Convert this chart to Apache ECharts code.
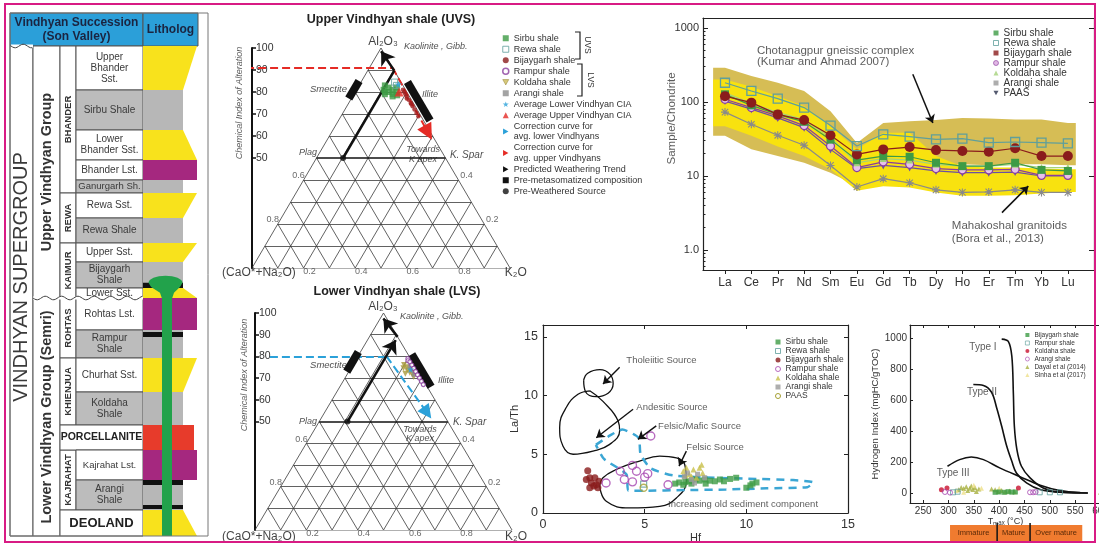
<!DOCTYPE html>
<html>
<head>
<meta charset="utf-8">
<title>Vindhyan shale geochemistry</title>
<script src="https://cdn.jsdelivr.net/npm/echarts@6.0.0/dist/echarts.min.js"></script>
<style>
  html, body { margin: 0; padding: 0; background: #ffffff; }
  #chart { width: 1099px; height: 545px; }
</style>
</head>
<body>
<div id="chart"></div>
<script>
// ======================= DATA =======================
// --- Stratigraphic column (Son Valley) ---
const stratMembers = ['Upper\nBhander\nSst.', 'Sirbu Shale', 'Lower\nBhander Sst.', 'Bhander Lst.', 'Ganurgarh Sh.',
  'Rewa Sst.', 'Rewa Shale', 'Upper Sst.', 'Bijaygarh\nShale', 'Lower Sst.', 'Rohtas Lst.', 'Rampur\nShale',
  'Churhat Sst.', 'Koldaha\nShale', 'PORCELLANITE', 'Kajrahat Lst.', 'Arangi\nShale', 'DEOLAND'];
const stratThickness = [44, 40, 30, 20, 13, 25, 25, 19, 26, 10, 32, 28, 34, 33, 25, 30, 30, 26];
const stratLitho = ['sst', 'shale', 'sst', 'lst', 'shale', 'sst', 'shale', 'sst', 'shale', 'sst', 'lst', 'shale',
  'sst', 'shale', 'porc', 'lst', 'shale', 'sst'];
const grainTop  = [2, 1, 1, 2, 1, 2, 1, 2, 1, 1, 2, 1, 2, 1, 2, 2, 1, 1];
const grainBase = [1, 1, 2, 2, 1, 1, 1, 1, 1, 2, 2, 1, 1, 1, 2, 2, 1, 2];
const formations = ['BHANDER', 'REWA', 'KAIMUR', 'ROHTAS', 'KHIENJUA', 'PORCELLANITE', 'KAJRAHAT', 'DEOLAND'];
const formationMembers = [5, 2, 3, 2, 2, 1, 2, 1];
const groups = ['Upper Vindhyan Group', 'Lower Vindhyan Group (Semri)'];
const groupMembers = [10, 8];
const supergroupName = 'VINDHYAN SUPERGROUP';
const blackShaleBands = [[8, 0.80, 1.0], [11, 0.07, 0.25], [16, 0.0, 0.17], [16, 0.83, 0.97]];
const sampledFromMember = 8;

// --- A-CN-K ternary data: [Al2O3 fraction, K2O fraction] ---
const uvsSirbu = [[0.83,0.10],[0.82,0.12],[0.81,0.105],[0.80,0.13],[0.79,0.12],[0.81,0.14],[0.79,0.15],[0.80,0.16],[0.78,0.155],[0.82,0.15],[0.80,0.115],[0.785,0.17]];
const uvsRewa = [[0.845,0.13],[0.83,0.145]];
const uvsBijaygarh = [[0.81,0.18],[0.80,0.19],[0.79,0.20],[0.78,0.21],[0.765,0.225],[0.75,0.24],[0.735,0.255],[0.72,0.27],[0.705,0.285],[0.69,0.30],[0.77,0.215],[0.745,0.245]];
const uvsAvgUpper = [[0.80, 0.17]];
const uvsAvgLower = [[0.835, 0.15]];
const uvsTrend = [[0.5, 0.103], [0.897, 0.103], [0.985, 0.008]];
const uvsCorrectionCIA = 91;
const uvsCorrection = [[0.91, 0.09], [0.615, 0.375]];
const uvsSmectite = [[0.77, -0.01], [0.85, -0.01]];
const uvsIllite = [[0.845, 0.18], [0.67, 0.355]];

const lvsRampur = [[0.79,0.20],[0.78,0.205],[0.775,0.215],[0.76,0.23],[0.745,0.245],[0.73,0.26],[0.715,0.275],[0.70,0.29],[0.685,0.305],[0.67,0.32]];
const lvsKoldaha = [[0.76,0.20],[0.75,0.215],[0.745,0.205],[0.735,0.225],[0.725,0.24],[0.715,0.255],[0.705,0.265],[0.74,0.235],[0.72,0.225],[0.73,0.25]];
const lvsArangi = [[0.755,0.225],[0.735,0.24],[0.715,0.26]];
const lvsAvgLower = [[0.74, 0.235]];
const lvsTrend = [[0.5, 0.11], [0.875, 0.11]];
const lvsTrend2 = [[0.89, 0.11], [0.975, 0.012]];
const lvsCorrectionCIA = 80;
const lvsCorrection = [[0.8, 0.112], [0.54, 0.40]];
const lvsSmectite = [[0.73, -0.008], [0.82, -0.008]];
const lvsIllite = [[0.81, 0.205], [0.66, 0.355]];
const ternaryTicks = [0.2, 0.4, 0.6, 0.8];

// --- Chondrite-normalised REE ---
const REE = ['La','Ce','Pr','Nd','Sm','Eu','Gd','Tb','Dy','Ho','Er','Tm','Yb','Lu'];
const reeSirbu     = [127, 90, 68, 54, 31, 16.4, 18.6, 18.2, 15.1, 13.6, 13.6, 15.1, 12.1, 11.7];
const reeRewa      = [182, 141, 111, 84, 48, 25.4, 36.6, 34, 31.3, 32, 28.2, 28.8, 28.2, 27.6];
const reeBijaygarh = [120, 98, 68, 57, 35.5, 19.6, 22.9, 24.6, 22.4, 21.8, 21.3, 23.7, 18.6, 18.6];
const reeRampur    = [109, 84, 65, 48, 25.4, 13, 15.5, 14.4, 12.6, 12.1, 12.1, 12.3, 10.2, 10.2];
const reeKoldaha   = [133, 96, 72, 58, 33, 15.1, 17.2, 16.4, 14.4, 13.6, 13.6, 14.4, 13, 13];
const reeArangi    = [73, 50, 35.5, 26, 13.9, 7.1, 9.2, 8.1, 6.5, 6.0, 6.1, 6.5, 6.0, 6.0];
const reePAAS      = [103, 80, 61, 45, 22.9, 12.6, 13.9, 13, 11.7, 11.1, 11.1, 11.3, 10, 10];
const chotaUpper = [291, 224, 182, 141, 75, 28, 52, 55, 57, 61, 60, 58, 58, 52];
const chotaLower = [35, 23, 18.6, 15.1, 11.1, 7.3, 11.1, 13, 14.4, 14.4, 14, 14.4, 14.4, 14];
const mahaUpper  = [202, 161, 120, 88, 47, 23, 38.5, 38.5, 18.6, 13.6, 13, 13, 12.6, 12.3];
const mahaLower  = [47, 35, 25, 18.6, 12.3, 6.3, 7.3, 7, 6, 5.4, 5.4, 5.5, 5.8, 6.1];

// --- La/Th vs Hf ---
const ltSirbu = [[6.5,2.5],[6.7,2.6],[7.0,2.65],[7.2,2.7],[7.5,2.85],[7.7,2.75],[7.95,2.85],[8.2,2.75],[8.45,2.7],[8.7,2.85],[8.9,2.7],[9.2,2.9],[9.5,3.0],[10.0,2.15],[10.2,2.35],[10.3,2.5],[10.5,2.6],[6.9,2.4],[7.3,2.5],[8.0,2.5]];
const ltRewa = [[4.95,2.45]];
const ltBijaygarh = [[2.2,3.6],[2.3,3.0],[2.38,2.55],[2.5,2.3],[2.62,2.4],[2.75,2.7],[2.3,2.15],[2.55,3.0],[2.13,2.85],[2.7,2.15]];
const ltRampur = [[3.1,2.55],[3.8,3.55],[4.0,2.85],[4.4,2.65],[4.4,4.05],[4.6,3.55],[5.0,3.05],[5.15,3.35],[5.3,6.55],[6.15,2.4]];
const ltKoldaha = [[6.9,3.55],[7.05,3.85],[7.2,3.3],[7.4,3.7],[7.55,3.0],[7.7,3.85],[7.85,3.4],[7.8,4.1],[7.3,3.1],[7.0,3.2]];
const ltArangi = [[6.95,3.1],[7.3,2.85],[7.6,3.3],[7.95,3.0],[7.45,2.55],[7.1,3.4]];
const ltPAAS = [[4.95,2.15]];
const fieldTholeiitic = [[2.0,11.3],[2.2,11.9],[2.8,12.2],[3.3,11.8],[3.45,11.0],[3.2,10.2],[2.6,9.9],[2.1,10.3],[2.0,11.3]];
const fieldAndesitic = [[2.3,10.4],[2.95,9.5],[3.7,7.8],[3.77,7.0],[3.28,5.84],[2.46,5.27],[1.48,5.0],[0.98,5.7],[0.82,7.3],[1.15,9.0],[1.72,10.1],[2.3,10.4]];
const fieldFelsic = [[2.79,2.28],[3.11,1.0],[4.26,0.43],[5.74,0.57],[6.56,1.28],[7.05,2.7],[6.97,4.13],[6.56,4.7],[5.74,4.84],[4.75,4.42],[3.6,3.7],[2.95,3.0],[2.79,2.28]];
const fieldFelsicMafic = [[2.6,5.8],[3.3,6.6],[3.9,7.1],[4.7,6.4],[4.8,5.0],[5.3,3.8],[6.4,3.2],[8.5,3.0],[10.5,2.9],[12.3,2.8],[13.3,2.6],[13.0,2.2],[11.0,2.1],[9.0,2.0],[7.0,1.95],[5.0,1.9],[4.2,1.9],[4.1,3.3],[3.0,4.6],[2.6,5.8]];

// --- Hydrogen index vs Tmax ---
const hiBijaygarh = [[392,4],[400,6],[410,4],[418,8],[425,5],[432,6]];
const hiRampur = [[309,4],[318,8],[480,4],[500,4],[520,4]];
const hiKoldaha = [[286,21],[297,32],[438,32]];
const hiArangi = [[293,6],[303,2],[461,4],[467,4],[472,6]];
const hiDayal = [[320,20],[325,35],[330,28],[335,40],[338,15],[342,30],[345,45],[348,22],[352,35],[355,10],[360,25],[385,25],[392,20],[398,10],[405,15],[412,8],[420,12],[430,8],[600,4]];
const hiSinha = [[315,15],[330,5],[350,50],[365,30],[400,30]];
const typeI = [[405,993],[418,978],[425,882],[428,645],[430,430],[435,280],[444,172],[461,97],[487,32],[520,4],[575,0]];
const typeII = [[349,700],[369,694],[385,650],[395,550],[405,430],[415,301],[425,204],[434,129],[454,65],[481,22],[520,4],[575,0]];
const typeIII = [[298,172],[322,215],[345,232],[369,215],[402,160],[441,105],[481,50],[520,15],[560,2]];
const maturityNames = ['Immature', 'Mature', 'Over mature'];
const maturityFrom = [303, 396, 461];
const maturityTo = [396, 461, 564];

// ======================= CONFIG =======================
const FONT = '"Liberation Sans", Arial, Helvetica, sans-serif';
const C = { sirbu: '#3d9b45', rewa: '#5f9f9b', bij: '#8a1c1c', ramp: '#8a3d9e', kold: '#b3a24a', arangi: '#8c8c8c', cyan: '#2ba1d9', red: '#e52b25' };
const LITHO_COLORS = { sst: '#f8e21c', shale: '#b7b7b7', lst: '#a5287f', porc: '#e73b2b' };
const INV_TRI = 'path://M0,0L10,0L5,9Z';
const RIGHT_TRI = 'path://M0,0L9,5L0,10Z';
const STAR = 'path://M5,0L6.2,3.6L10,3.6L7,5.9L8.1,9.5L5,7.3L1.9,9.5L3,5.9L0,3.6L3.8,3.6Z';
const ASTER = 'path://M1,1L9,9M9,1L1,9M5,0L5,10M0,5L10,5';
const UX = 1, UY = 1, LX = 2, LY = 2, RX = 3, RY = 3, TX = 5, TY = 6, HX = 7, HY = 8;
const REE_MIN = -0.834, REE_MAX = 13.99;

const Tt = (a, k) => [k + a / 2, a * 100];
const tern = arr => arr.map(p => Tt(p[0], p[1]));

// ---------- strat column ----------
function renderStrat(params, api) {
  const X = { sg: 0, grp: 23, fm: 50, mb: 66, lith: 133, lithEnd: 188, end: 198 };
  const P = (x, d) => api.coord([x, d]);
  const R = (x0, d0, x1, d1) => { const a = P(x0, d0), b = P(x1, d1); return { x: a[0], y: a[1], width: b[0] - a[0], height: b[1] - a[1] }; };
  const stroke = '#555';
  const bg = [], fills = [], lines = [], texts = [];
  const tops = []; let acc = 0;
  stratThickness.forEach(t => { tops.push(acc); acc += t; });
  const total = acc;
  const text = (x, d, str, style, rot) => { const p = P(x, d); return { type: 'text', x: p[0], y: p[1], rotation: rot || 0, style: Object.assign({ text: str, fill: '#333', fontFamily: FONT, fontSize: 10, align: 'center', verticalAlign: 'middle' }, style) }; };
  const cell = (x0, d0, x1, d1, fill) => ({ type: 'rect', shape: R(x0, d0, x1, d1), style: { fill, stroke, lineWidth: 1 } });

  bg.push(cell(X.sg, -33, X.lith, 0, '#2b9fd9'));
  bg.push(cell(X.lith, -33, X.lithEnd, 0, '#2b9fd9'));
  texts.push(text(X.lith / 2, -16.5, 'Vindhyan Succession\n(Son Valley)', { fontSize: 12, fontWeight: 'bold', fill: '#1b2440', lineHeight: 14 }));
  texts.push(text((X.lith + X.lithEnd) / 2, -16.5, 'Litholog', { fontSize: 12, fontWeight: 'bold', fill: '#1b2440' }));

  bg.push(cell(X.sg, 0, X.grp, total, '#fff'));
  texts.push(text((X.sg + X.grp) / 2, 231, supergroupName, { fontSize: 20, fill: '#3a3a3a' }, Math.PI / 2));

  let mi = 0;
  groups.forEach((g, gi) => {
    const n = groupMembers[gi]; const d0 = tops[mi]; const d1 = tops[mi + n - 1] + stratThickness[mi + n - 1];
    bg.push(cell(X.grp, d0, X.fm, d1, '#fff'));
    texts.push(text((X.grp + X.fm) / 2, (d0 + d1) / 2, g, { fontSize: 14.5, fontWeight: 'bold', fill: '#333' }, Math.PI / 2));
    mi += n;
  });
  const memberFormation = [];
  mi = 0;
  formations.forEach((f, fi) => {
    const n = formationMembers[fi]; const d0 = tops[mi]; const d1 = tops[mi + n - 1] + stratThickness[mi + n - 1];
    for (let k = 0; k < n; k++) memberFormation.push(fi);
    if (n > 1) {
      bg.push(cell(X.fm, d0, X.mb, d1, '#fff'));
      texts.push(text((X.fm + X.mb) / 2, (d0 + d1) / 2, f, { fontSize: 9.5, fontWeight: 'bold', fill: '#333' }, Math.PI / 2));
    }
    mi += n;
  });
  stratMembers.forEach((m, i) => {
    const d0 = tops[i], d1 = d0 + stratThickness[i];
    const merged = formationMembers[memberFormation[i]] === 1;
    const x0 = merged ? X.fm : X.mb;
    const lt = stratLitho[i];
    bg.push(cell(x0, d0, X.lith, d1, lt === 'shale' ? '#bcbcbc' : '#fff'));
    const longest = Math.max.apply(null, m.split('\n').map(s => s.length));
    const fs = merged ? (m.length > 8 ? 10.5 : 13) : (longest > 12 ? 9.5 : 10);
    texts.push(text((x0 + X.lith) / 2, (d0 + d1) / 2, m, { fontSize: fs, fontWeight: merged ? 'bold' : 'normal', lineHeight: 11, fill: merged ? '#222' : '#3a3a3a' }));
    const widthOf = g => (lt === 'porc' ? 51 : (g === 2 ? 54 : 40));
    const wt = widthOf(grainTop[i]), wb = widthOf(grainBase[i]);
    fills.push({ type: 'polygon', shape: { points: [P(X.lith, d0), P(X.lith + wt, d0), P(X.lith + wb, d1), P(X.lith, d1)] }, style: { fill: LITHO_COLORS[lt] } });
  });
  blackShaleBands.forEach(b => {
    const d0 = tops[b[0]] + b[1] * stratThickness[b[0]], d1 = tops[b[0]] + b[2] * stratThickness[b[0]];
    fills.push({ type: 'rect', shape: R(X.lith, d0, X.lith + 40, d1), style: { fill: '#111' } });
  });
  const cc = P(155.5, tops[sampledFromMember] + 0.8 * stratThickness[sampledFromMember]);
  const rx = 17, ry = 7;
  const sL = P(152, 0)[0], sR = P(162, 0)[0];
  const bottom = P(0, total)[1];
  const gp = [];
  for (let k = 0; k <= 16; k++) { const a = Math.PI - k * Math.PI / 16; gp.push([cc[0] + rx * Math.cos(a), cc[1] - ry * Math.sin(a)]); }
  gp.push([cc[0] + rx * 0.85, cc[1] + ry * 0.6], [sR + 2, cc[1] + ry + 3], [sR, cc[1] + ry + 9], [sR, bottom], [sL, bottom], [sL, cc[1] + ry + 9], [sL - 2, cc[1] + ry + 3], [cc[0] - rx * 0.85, cc[1] + ry * 0.6]);
  fills.push({ type: 'polygon', shape: { points: gp }, style: { fill: '#22a24b' } });
  const wave = (xa, xb, d) => {
    const a = P(xa, d), b = P(xb, d); const pts = [];
    for (let x = a[0]; x <= b[0] + 0.1; x += 1.5) pts.push([x, a[1] + 1.8 * Math.sin((x - a[0]) / 2.6)]);
    lines.push({ type: 'line', shape: { x1: a[0], y1: a[1], x2: b[0], y2: b[1] }, style: { stroke: '#fff', lineWidth: 3 } });
    lines.push({ type: 'polyline', shape: { points: pts }, style: { stroke: '#444', lineWidth: 1, fill: null } });
  };
  wave(X.grp, X.lith, tops[10]);
  wave(X.sg + 1, X.grp, 0);
  const outer = { type: 'rect', shape: R(X.sg, -33, X.end, total), style: { fill: null, stroke: '#777', lineWidth: 1 } };
  return { type: 'group', children: bg.concat(fills, lines, texts, [outer]) };
}

// ---------- helpers ----------
function labelSeries(xi, yi, items, base) {
  return {
    type: 'scatter', xAxisIndex: xi, yAxisIndex: yi, symbolSize: 0, silent: true, clip: false, z: 20,
    data: items.map(t => ({
      value: [t[0], t[1]],
      label: Object.assign({ show: true, position: [0, 0], formatter: t[2], align: 'center', verticalAlign: 'middle', fontSize: 10, color: '#222', fontFamily: FONT }, base || {}, t[3] || {})
    }))
  };
}
function linesSeries(name, xi, yi, segs, lineStyle, endSymbol, endSize, z) {
  return {
    type: 'lines', name, coordinateSystem: 'cartesian2d', xAxisIndex: xi, yAxisIndex: yi, silent: true, z: z || 6,
    symbol: ['none', endSymbol || 'none'], symbolSize: endSize || 10,
    lineStyle: Object.assign({ opacity: 1, curveness: 0 }, lineStyle),
    data: segs.map(s => ({ coords: s }))
  };
}
function scatter(name, xi, yi, data, symbol, size, itemStyle, z) {
  return { type: 'scatter', name, xAxisIndex: xi, yAxisIndex: yi, data, symbol, symbolSize: size, itemStyle, silent: true, z: z || 8 };
}
function ternaryFrame(xi, yi) {
  const seg = [], mid = [];
  for (let i = 1; i <= 9; i++) {
    const v = i / 10;
    if (i === 5) mid.push({ coords: [Tt(v, 0), Tt(v, 1 - v)] }); else seg.push({ coords: [Tt(v, 0), Tt(v, 1 - v)] });
    seg.push({ coords: [Tt(0, v), Tt(1 - v, v)] });
    seg.push({ coords: [Tt(0, 1 - v), Tt(1 - v, 0)] });
  }
  seg.push({ coords: [Tt(0, 0), Tt(0, 1)] }, { coords: [Tt(0, 0), Tt(1, 0)] }, { coords: [Tt(0, 1), Tt(1, 0)] });
  const out = [
    { type: 'lines', coordinateSystem: 'cartesian2d', xAxisIndex: xi, yAxisIndex: yi, silent: true, z: 2, lineStyle: { color: '#3a3a3a', width: 0.8, opacity: 1 }, data: seg },
    { type: 'lines', coordinateSystem: 'cartesian2d', xAxisIndex: xi, yAxisIndex: yi, silent: true, z: 2, lineStyle: { color: '#111', width: 1.6, opacity: 1 }, data: mid }
  ];
  const tl = [];
  ternaryTicks.forEach(v => { const p = Tt(0, v); tl.push([p[0], p[1], String(v), { offset: [6, 4] }]); });
  [[0.4, '0.6'], [0.2, '0.8']].forEach(q => { const p = Tt(q[0], 0); tl.push([p[0], p[1], q[1], { offset: [-5, -4] }]); });
  [[0.4, '0.4'], [0.2, '0.2']].forEach(q => { const p = Tt(q[0], 1 - q[0]); tl.push([p[0], p[1], q[1], { offset: [8, -4] }]); });
  out.push(labelSeries(xi, yi, tl, { fontSize: 9, color: '#444' }));
  return out;
}
function ciaAxis(gi) {
  return {
    gridIndex: gi, type: 'value', min: 0, max: 100, interval: 10, position: 'left',
    axisLine: { show: true, onZero: false, lineStyle: { color: '#111', width: 2 } },
    axisTick: { show: true, inside: true, length: 4, lineStyle: { color: '#111', width: 1.5 }, customValues: [50, 60, 70, 80, 90, 100] },
    axisLabel: { show: true, inside: true, margin: 4, fontSize: 10.5, color: '#333', customValues: [50, 60, 70, 80, 90, 100] },
    splitLine: { show: false }
  };
}
const AX = { show: true, onZero: false, lineStyle: { color: '#222', width: 1.2 } };
const hiddenAxis = (gi, min, max, extra) => Object.assign({ gridIndex: gi, type: 'value', min, max, show: false }, extra || {});
const logMinor = [];
[0.1, 1, 10, 100, 1000].forEach(d => { for (let k = 2; k <= 9; k++) { const v = d * k; if (v > 0.537 && v < 1365) logMinor.push(v); } });

const series = [];
series.push({ type: 'custom', name: 'strat', xAxisIndex: 0, yAxisIndex: 0, data: [[0, 0]], clip: false, silent: true, renderItem: renderStrat, z: 2 });

// ----- UVS ternary -----
series.push(...ternaryFrame(UX, UY));
series.push(linesSeries('Correction curve for avg. upper Vindhyans', UX, UY, [[[-0.116, uvsCorrectionCIA], Tt(uvsCorrection[0][0], uvsCorrection[0][1])]], { color: C.red, width: 2, type: 'dashed' }, 'none', 1, 5));
series.push(linesSeries('Correction curve for avg. upper Vindhyans', UX, UY, [tern(uvsCorrection)], { color: C.red, width: 2, type: 'dashed' }, 'triangle', 16, 5));
series.push(linesSeries('Predicted Weathering Trend', UX, UY, [[Tt(uvsTrend[0][0], uvsTrend[0][1]), Tt(uvsTrend[1][0], uvsTrend[1][1])]], { color: '#111', width: 2.5 }, 'none', 1, 6));
series.push(linesSeries('Predicted Weathering Trend', UX, UY, [[Tt(uvsTrend[1][0], uvsTrend[1][1]), Tt(uvsTrend[2][0], uvsTrend[2][1])]], { color: '#111', width: 2.5 }, 'arrow', 13, 6));
series.push(linesSeries('Pre-metasomatized composition', UX, UY, [tern(uvsSmectite), tern(uvsIllite)], { color: '#111', width: 8, cap: 'butt' }, 'none', 1, 6));
series.push(scatter('Sirbu shale', UX, UY, tern(uvsSirbu), 'rect', 6, { color: C.sirbu }));
series.push(scatter('Rewa shale', UX, UY, tern(uvsRewa), 'rect', 6, { color: 'rgba(255,255,255,0)', borderColor: C.rewa, borderWidth: 1 }));
series.push(scatter('Bijaygarh shale', UX, UY, tern(uvsBijaygarh), 'circle', 4.5, { color: '#a11d1d' }));
series.push(scatter('Average Upper Vindhyan CIA', UX, UY, tern(uvsAvgUpper), 'triangle', 9, { color: C.red }, 9));
series.push(scatter('Average Lower Vindhyan CIA', UX, UY, tern(uvsAvgLower), STAR, 7, { color: C.cyan }, 9));
series.push(scatter('Pre-Weathered Source', UX, UY, tern([uvsTrend[0]]), 'circle', 6, { color: '#111' }, 9));
series.push(labelSeries(UX, UY, [
  [0.508, 103, 'Al₂O₃', { fontSize: 12, color: '#111' }],
  [0.589, 100.5, 'Kaolinite , Gibb.', { align: 'left', fontStyle: 'italic', fontSize: 9 }],
  [0.368, 81, 'Smectite', { align: 'right', fontStyle: 'italic', fontSize: 9.5 }],
  [0.659, 79, 'Illite', { align: 'left', fontStyle: 'italic', fontSize: 9 }],
  [0.252, 52.3, 'Plag', { align: 'right', fontStyle: 'italic', fontSize: 9 }],
  [0.767, 51.4, 'K. Spar', { align: 'left', fontStyle: 'italic', fontSize: 10 }],
  [0.663, 51.5, 'Towards\nK apex', { fontStyle: 'italic', fontSize: 9, lineHeight: 9.5 }],
  [-0.116, -2, '(CaO*+Na₂O)', { align: 'left', fontSize: 12, color: '#111' }],
  [0.98, -2, 'K₂O', { align: 'left', fontSize: 12, color: '#111' }],
  [-0.047, 75, 'Chemical Index of Alteration', { rotate: 90, fontStyle: 'italic', fontSize: 9, color: '#333' }]
]));

// ----- LVS ternary -----
series.push(...ternaryFrame(LX, LY));
series.push(linesSeries('Correction curve for avg. lower Vindhyans', LX, LY, [[[0.058, lvsCorrectionCIA], Tt(lvsCorrection[0][0], lvsCorrection[0][1])]], { color: C.cyan, width: 2, type: 'dashed' }, 'none', 1, 5));
series.push(linesSeries('Correction curve for avg. lower Vindhyans', LX, LY, [tern(lvsCorrection)], { color: C.cyan, width: 2, type: 'dashed' }, 'triangle', 14, 5));
series.push(linesSeries('Predicted Weathering Trend', LX, LY, [tern(lvsTrend), tern(lvsTrend2)], { color: '#111', width: 2.5 }, 'arrow', 13, 6));
series.push(linesSeries('Pre-metasomatized composition', LX, LY, [tern(lvsSmectite), tern(lvsIllite)], { color: '#111', width: 8, cap: 'butt' }, 'none', 1, 6));
series.push(scatter('Koldaha shale', LX, LY, tern(lvsKoldaha), INV_TRI, 6, { color: '#a89a3c' }));
series.push(scatter('Rampur shale', LX, LY, tern(lvsRampur), 'circle', 4, { color: '#fff', borderColor: C.ramp, borderWidth: 1.2 }, 9));
series.push(scatter('Arangi shale', LX, LY, tern(lvsArangi), 'rect', 4, { color: C.arangi }));
series.push(scatter('Average Lower Vindhyan CIA', LX, LY, tern(lvsAvgLower), STAR, 7, { color: C.cyan }, 9));
series.push(scatter('Pre-Weathered Source', LX, LY, tern([lvsTrend[0]]), 'circle', 6, { color: '#111' }, 9));
series.push(labelSeries(LX, LY, [
  [0.498, 102.8, 'Al₂O₃', { fontSize: 12, color: '#111' }],
  [0.564, 98.6, 'Kaolinite , Gibb.', { align: 'left', fontStyle: 'italic', fontSize: 9 }],
  [0.358, 76, 'Smectite', { align: 'right', fontStyle: 'italic', fontSize: 9.5 }],
  [0.712, 69, 'Illite', { align: 'left', fontStyle: 'italic', fontSize: 9 }],
  [0.241, 49.8, 'Plag', { align: 'right', fontStyle: 'italic', fontSize: 9 }],
  [0.77, 49.8, 'K. Spar', { align: 'left', fontStyle: 'italic', fontSize: 10 }],
  [0.642, 44.2, 'Towards\nK apex', { fontStyle: 'italic', fontSize: 9, lineHeight: 9.5 }],
  [-0.128, -3.2, '(CaO*+Na₂O)', { align: 'left', fontSize: 12, color: '#111' }],
  [0.973, -3.2, 'K₂O', { align: 'left', fontSize: 12, color: '#111' }],
  [-0.039, 71.4, 'Chemical Index of Alteration', { rotate: 90, fontStyle: 'italic', fontSize: 9, color: '#333' }]
]));

// ----- REE -----
function band(name, upper, lower, color) {
  return {
    type: 'custom', name, xAxisIndex: RX, yAxisIndex: RY, silent: true, z: 1, clip: false, data: [[0, upper[0]]],
    renderItem(params, api) {
      const pts = [api.coord([-0.45, upper[0]])];
      upper.forEach((v, i) => pts.push(api.coord([i, v])));
      pts.push(api.coord([13.3, upper[upper.length - 1]]), api.coord([13.3, lower[lower.length - 1]]));
      for (let i = lower.length - 1; i >= 0; i--) pts.push(api.coord([i, lower[i]]));
      pts.push(api.coord([-0.45, lower[0]]));
      return { type: 'polygon', shape: { points: pts }, style: { fill: color } };
    }
  };
}
series.push(band('Chotanagpur gneissic complex', chotaUpper, chotaLower, '#d6bd55'));
series.push(band('Mahakoshal granitoids', mahaUpper, mahaLower, '#f8e20f'));
function reeLine(name, vals, symbol, size, itemStyle, color, z) {
  return { type: 'line', name, xAxisIndex: RX, yAxisIndex: RY, data: vals.map((v, i) => [i, v]), symbol, symbolSize: size, showSymbol: true,
    itemStyle, lineStyle: { color, width: 1.2 }, silent: true, z: z || 5 };
}
series.push(reeLine('Arangi shale', reeArangi, ASTER, 8, { color: 'rgba(0,0,0,0)', borderColor: '#8a8a8a', borderWidth: 1.1 }, '#8a8a8a'));
series.push(reeLine('PAAS', reePAAS, INV_TRI, 8, { color: '#6a4fa3' }, '#6a4fa3'));
series.push(reeLine('Rampur shale', reeRampur, 'circle', 8, { color: '#e6c2ea', borderColor: C.ramp, borderWidth: 1.2 }, C.ramp));
series.push(reeLine('Koldaha shale', reeKoldaha, 'triangle', 7, { color: '#a5d27c' }, '#a5d27c'));
series.push(reeLine('Sirbu shale', reeSirbu, 'rect', 8, { color: C.sirbu }, C.sirbu));
series.push(reeLine('Bijaygarh shale', reeBijaygarh, 'circle', 10, { color: C.bij }, C.bij));
series.push(reeLine('Rewa shale', reeRewa, 'rect', 9, { color: 'rgba(255,255,255,0)', borderColor: C.rewa, borderWidth: 1.3 }, C.rewa, 6));
series.push(linesSeries('arrowREE', RX, RY, [[[7.12, 237], [7.88, 52]], [[10.5, 3.2], [11.5, 7.3]]], { color: '#111', width: 1.5 }, 'arrow', 8, 10));
series.push(labelSeries(RX, RY, [
  [1.21, 484, 'Chotanagpur gneissic complex', { align: 'left' }],
  [1.21, 344, '(Kumar and Ahmad 2007)', { align: 'left' }],
  [8.6, 2.09, 'Mahakoshal granitoids', { align: 'left' }],
  [8.6, 1.40, '(Bora et al., 2013)', { align: 'left' }],
  [-2.0, 60, 'Sample/Chondrite', { rotate: 90, fontSize: 11.5 }]
], { fontSize: 11.5, color: '#333' }));

// ----- La/Th vs Hf -----
function field(data, style, smooth) {
  return { type: 'line', xAxisIndex: TX, yAxisIndex: TY, data, smooth: smooth == null ? 0.45 : smooth, symbol: 'none', silent: true, z: 3, lineStyle: style };
}
series.push(field(fieldTholeiitic, { color: '#111', width: 1.3 }));
series.push(field(fieldAndesitic, { color: '#111', width: 1.3 }));
series.push(field(fieldFelsic, { color: '#111', width: 1.3 }));
series.push(field(fieldFelsicMafic, { color: '#3ba6d4', width: 2.5, type: [8, 6] }, 0.2));
series.push(scatter('Sirbu shale', TX, TY, ltSirbu, 'rect', 6, { color: C.sirbu }));
series.push(scatter('Koldaha shale', TX, TY, ltKoldaha, 'triangle', 6, { color: '#c8bf4a' }));
series.push(scatter('Arangi shale', TX, TY, ltArangi, 'rect', 5, { color: '#9a9a9a' }));
series.push(scatter('Rewa shale', TX, TY, ltRewa, 'rect', 6, { color: 'rgba(255,255,255,0)', borderColor: C.rewa, borderWidth: 1.2 }));
series.push(scatter('Bijaygarh shale', TX, TY, ltBijaygarh, 'circle', 7, { color: C.bij }));
series.push(scatter('Rampur shale', TX, TY, ltRampur, 'circle', 8, { color: 'rgba(255,255,255,0)', borderColor: '#a646b0', borderWidth: 1.4 }));
series.push(scatter('PAAS', TX, TY, ltPAAS, 'circle', 7, { color: 'rgba(255,255,255,0)', borderColor: '#a5a030', borderWidth: 1.4 }));
series.push(linesSeries('arrowLT', TX, TY, [[[3.77, 12.4], [2.95, 10.97]], [[4.43, 8.83], [2.62, 6.41]], [[5.57, 7.41], [4.67, 6.27]], [[7.05, 5.27], [6.69, 3.99]]], { color: '#111', width: 1.4 }, 'arrow', 8, 10));
series.push(labelSeries(TX, TY, [
  [4.1, 12.96, 'Tholeiitic Source', { align: 'left' }],
  [4.59, 8.97, 'Andesitic Source', { align: 'left' }],
  [5.66, 7.41, 'Felsic/Mafic Source', { align: 'left' }],
  [7.05, 5.56, 'Felsic Source', { align: 'left' }],
  [6.15, 0.71, 'Increasing old sediment component', { align: 'left' }]
], { fontSize: 9.5, color: '#333' }));

// ----- HI vs Tmax -----
function typeCurve(data) { return { type: 'line', xAxisIndex: HX, yAxisIndex: HY, data, smooth: 0.35, symbol: 'none', silent: true, z: 3, lineStyle: { color: '#111', width: 1.6 } }; }
series.push(typeCurve(typeI), typeCurve(typeII), typeCurve(typeIII));
series.push(scatter('Dayal et al (2014)', HX, HY, hiDayal, 'triangle', 5, { color: '#a8b040' }));
series.push(scatter('Sinha et al (2017)', HX, HY, hiSinha, 'triangle', 5, { color: '#eee08a' }));
series.push(scatter('Bijaygarh shale', HX, HY, hiBijaygarh, 'rect', 5, { color: C.sirbu }));
series.push(scatter('Rampur shale', HX, HY, hiRampur, 'rect', 5, { color: 'rgba(255,255,255,0)', borderColor: C.rewa, borderWidth: 1 }));
series.push(scatter('Koldaha shale', HX, HY, hiKoldaha, 'circle', 5, { color: '#c8102e' }));
series.push(scatter('Arangi shale', HX, HY, hiArangi, 'circle', 5, { color: 'rgba(255,255,255,0)', borderColor: '#a646b0', borderWidth: 1 }));
series.push(labelSeries(HX, HY, [
  [368, 942, 'Type I'], [366, 652, 'Type II'], [309, 129, 'Type III']
], { fontSize: 10, color: '#333' }));
series.push({
  type: 'custom', name: 'maturity', xAxisIndex: HX, yAxisIndex: HY, silent: true, clip: false, z: 5,
  data: maturityFrom.map((s, i) => [s, maturityTo[i], i]),
  renderItem(params, api) {
    const i = api.value(2);
    const p0 = api.coord([api.value(0), -65]), p1 = api.coord([api.value(1), -65]);
    const y0 = p0[1] + 22, h = 16;
    const ch = [
      { type: 'rect', shape: { x: p0[0], y: y0, width: p1[0] - p0[0], height: h }, style: { fill: '#f07b2f' } },
      { type: 'text', x: (p0[0] + p1[0]) / 2, y: y0 + h / 2, style: { text: maturityNames[i], fontSize: 7.5, fill: '#5a2a08', align: 'center', verticalAlign: 'middle', fontFamily: FONT } }
    ];
    if (i > 0) ch.push({ type: 'line', shape: { x1: p0[0], y1: y0 - 2, x2: p0[0], y2: y0 + h }, style: { stroke: '#111', lineWidth: 1.5 } });
    return { type: 'group', children: ch };
  }
});

// ---------- legends ----------
const legendBase = { orient: 'vertical', padding: 0, selectedMode: false, itemGap: 0 };
const legends = [
  Object.assign({}, legendBase, {
    left: 502, top: 33, itemGap: 0.5, itemWidth: 6, itemHeight: 6,
    textStyle: { fontSize: 9, color: '#333', fontFamily: FONT, lineHeight: 10.5 },
    formatter: n => ({ 'Correction curve for avg. lower Vindhyans': 'Correction curve for\navg. lower Vindhyans', 'Correction curve for avg. upper Vindhyans': 'Correction curve for\navg. upper Vindhyans' }[n] || n),
    data: [
      { name: 'Sirbu shale', icon: 'rect', itemStyle: { color: C.sirbu, borderWidth: 0 } },
      { name: 'Rewa shale', icon: 'rect', itemStyle: { color: '#fff', borderColor: C.rewa, borderWidth: 1 } },
      { name: 'Bijaygarh shale', icon: 'circle', itemStyle: { color: C.bij, borderWidth: 0 } },
      { name: 'Rampur shale', icon: 'circle', itemStyle: { color: '#fff', borderColor: C.ramp, borderWidth: 1.5 } },
      { name: 'Koldaha shale', icon: INV_TRI, itemStyle: { color: '#cdbb5a', borderColor: '#8d7d2a', borderWidth: 0.6 } },
      { name: 'Arangi shale', icon: 'rect', itemStyle: { color: C.arangi, borderWidth: 0 } },
      { name: 'Average Lower Vindhyan CIA', icon: STAR, itemStyle: { color: C.cyan, borderWidth: 0 } },
      { name: 'Average Upper Vindhyan CIA', icon: 'triangle', itemStyle: { color: C.red, borderWidth: 0 } },
      { name: 'Correction curve for avg. lower Vindhyans', icon: RIGHT_TRI, itemStyle: { color: C.cyan, borderWidth: 0 } },
      { name: 'Correction curve for avg. upper Vindhyans', icon: RIGHT_TRI, itemStyle: { color: C.red, borderWidth: 0 } },
      { name: 'Predicted Weathering Trend', icon: RIGHT_TRI, itemStyle: { color: '#111', borderWidth: 0 } },
      { name: 'Pre-metasomatized composition', icon: 'rect', itemStyle: { color: '#111', borderWidth: 0 } },
      { name: 'Pre-Weathered Source', icon: 'circle', itemStyle: { color: '#111', borderWidth: 0 } }
    ]
  }),
  Object.assign({}, legendBase, {
    left: 993, top: 28, itemWidth: 5, itemHeight: 5,
    textStyle: { fontSize: 10, color: '#333', fontFamily: FONT, lineHeight: 9.7 },
    data: [
      { name: 'Sirbu shale', icon: 'rect', itemStyle: { color: C.sirbu, borderWidth: 0 } },
      { name: 'Rewa shale', icon: 'rect', itemStyle: { color: '#fff', borderColor: C.rewa, borderWidth: 1 } },
      { name: 'Bijaygarh shale', icon: 'rect', itemStyle: { color: C.bij, borderWidth: 0 } },
      { name: 'Rampur shale', icon: 'circle', itemStyle: { color: '#d9a6de', borderColor: C.ramp, borderWidth: 0.8 } },
      { name: 'Koldaha shale', icon: 'triangle', itemStyle: { color: '#a5d27c', borderWidth: 0 } },
      { name: 'Arangi shale', icon: 'rect', itemStyle: { color: '#999', borderWidth: 0 } },
      { name: 'PAAS', icon: INV_TRI, itemStyle: { color: '#555a70', borderWidth: 0 } }
    ]
  }),
  Object.assign({}, legendBase, {
    left: 775, top: 337.5, itemWidth: 5, itemHeight: 5,
    textStyle: { fontSize: 8.5, color: '#333', fontFamily: FONT, lineHeight: 9 },
    data: [
      { name: 'Sirbu shale', icon: 'rect', itemStyle: { color: C.sirbu, borderWidth: 0 } },
      { name: 'Rewa shale', icon: 'rect', itemStyle: { color: '#fff', borderColor: C.rewa, borderWidth: 1 } },
      { name: 'Bijaygarh shale', icon: 'circle', itemStyle: { color: C.bij, borderWidth: 0 } },
      { name: 'Rampur shale', icon: 'circle', itemStyle: { color: '#fff', borderColor: '#a646b0', borderWidth: 1 } },
      { name: 'Koldaha shale', icon: 'triangle', itemStyle: { color: '#c8bf4a', borderWidth: 0 } },
      { name: 'Arangi shale', icon: 'rect', itemStyle: { color: '#9a9a9a', borderWidth: 0 } },
      { name: 'PAAS', icon: 'circle', itemStyle: { color: '#fff', borderColor: '#a5a030', borderWidth: 1 } }
    ]
  }),
  Object.assign({}, legendBase, {
    left: 1025, top: 331, itemWidth: 4, itemHeight: 4,
    textStyle: { fontSize: 6.5, color: '#333', fontFamily: FONT, lineHeight: 8 },
    data: [
      { name: 'Bijaygarh shale', icon: 'rect', itemStyle: { color: C.sirbu, borderWidth: 0 } },
      { name: 'Rampur shale', icon: 'rect', itemStyle: { color: '#fff', borderColor: C.rewa, borderWidth: 0.8 } },
      { name: 'Koldaha shale', icon: 'circle', itemStyle: { color: '#c8102e', borderWidth: 0 } },
      { name: 'Arangi shale', icon: 'circle', itemStyle: { color: '#fff', borderColor: '#a646b0', borderWidth: 0.8 } },
      { name: 'Dayal et al (2014)', icon: 'triangle', itemStyle: { color: '#a8b040', borderWidth: 0 } },
      { name: 'Sinha et al (2017)', icon: 'triangle', itemStyle: { color: '#eee08a', borderWidth: 0 } }
    ]
  })
];

const gridBase = { containLabel: false, outerBoundsMode: 'none' };
const option = {
  animation: false,
  backgroundColor: '#ffffff',
  textStyle: { fontFamily: FONT },
  title: [
    { text: 'Upper Vindhyan shale (UVS)', left: 391, top: 13, textAlign: 'center', padding: 0, textStyle: { fontSize: 12.5, fontWeight: 'bold', color: '#222', fontFamily: FONT } },
    { text: 'Lower Vindhyan shale (LVS)', left: 397, top: 285, textAlign: 'center', padding: 0, textStyle: { fontSize: 12.5, fontWeight: 'bold', color: '#222', fontFamily: FONT } }
  ],
  grid: [
    Object.assign({ left: 10, top: 13, width: 198, height: 523 }, gridBase),
    Object.assign({ left: 252, top: 48, width: 258, height: 220 }, gridBase),
    Object.assign({ left: 255, top: 313, width: 257, height: 217 }, gridBase),
    Object.assign({ left: 703, top: 18, width: 391, height: 252 }, gridBase),
    Object.assign({ left: 543, top: 325, width: 305, height: 188 }, gridBase),
    Object.assign({ left: 910, top: 325, width: 191, height: 178 }, gridBase)
  ],
  xAxis: [
    hiddenAxis(0, 0, 198),
    hiddenAxis(1, 0, 1),
    hiddenAxis(2, 0, 1),
    { gridIndex: 3, type: 'value', min: REE_MIN, max: REE_MAX, position: 'bottom', axisLine: AX,
      axisTick: { show: true, inside: false, length: 4, lineStyle: { color: '#222' }, customValues: REE.map((_, i) => i) },
      axisLabel: { show: true, fontSize: 12, color: '#333', margin: 7, customValues: REE.map((_, i) => i), formatter: v => REE[Math.round(v)] || '' },
      splitLine: { show: false } },
    { gridIndex: 3, type: 'value', min: REE_MIN, max: REE_MAX, position: 'top', axisLine: AX, axisTick: { show: false }, axisLabel: { show: false }, splitLine: { show: false } },
    { gridIndex: 4, type: 'value', min: 0, max: 15, interval: 5, position: 'bottom', name: 'Hf', nameLocation: 'middle', nameGap: 19,
      nameTextStyle: { fontSize: 11, color: '#333' }, axisLine: AX,
      axisTick: { show: true, inside: true, length: 4, lineStyle: { color: '#222' } },
      axisLabel: { fontSize: 12.5, color: '#333', margin: 5 }, splitLine: { show: false } },
    { gridIndex: 4, type: 'value', min: 0, max: 15, interval: 5, position: 'top', axisLine: AX, axisTick: { show: true, inside: true, length: 4, lineStyle: { color: '#222' } }, axisLabel: { show: false }, splitLine: { show: false } },
    { gridIndex: 5, type: 'value', min: 224, max: 601, minInterval: 50, maxInterval: 50, splitNumber: 8, position: 'bottom',
      name: 'Tₘₐₓ (°C)', nameLocation: 'middle', nameGap: 9, nameTextStyle: { fontSize: 9, color: '#333' }, axisLine: AX,
      axisTick: { show: true, inside: true, length: 3, lineStyle: { color: '#222' } },
      axisLabel: { fontSize: 10, color: '#333', margin: 3, formatter: v => (v % 50 === 0 ? String(v) : '') }, splitLine: { show: false } },
    { gridIndex: 5, type: 'value', min: 224, max: 601, minInterval: 50, maxInterval: 50, splitNumber: 8, position: 'top', axisLine: AX,
      axisTick: { show: true, inside: true, length: 3, lineStyle: { color: '#222' } }, axisLabel: { show: false }, splitLine: { show: false } }
  ],
  yAxis: [
    hiddenAxis(0, -33, 490, { inverse: true }),
    ciaAxis(1),
    ciaAxis(2),
    { gridIndex: 3, type: 'log', logBase: 10, min: 0.537, max: 1365, position: 'left',
      axisLine: AX, axisTick: { show: true, inside: true, length: 5, lineStyle: { color: '#222' }, customValues: [1, 10, 100, 1000] },
      axisLabel: { show: true, fontSize: 11, color: '#333', margin: 4, customValues: [1, 10, 100, 1000], formatter: v => (Math.abs(v - 1) < 1e-9 ? '1.0' : String(Math.round(v))) },
      splitLine: { show: false } },
    { gridIndex: 3, type: 'log', logBase: 10, min: 0.537, max: 1365, position: 'left', axisLine: { show: false, onZero: false },
      axisTick: { show: true, inside: true, length: 2.5, lineStyle: { color: '#222' }, customValues: logMinor }, axisLabel: { show: false }, splitLine: { show: false } },
    { gridIndex: 3, type: 'log', logBase: 10, min: 0.537, max: 1365, position: 'right', axisLine: AX,
      axisTick: { show: true, inside: true, length: 5, lineStyle: { color: '#222' }, customValues: [1, 10, 100, 1000] }, axisLabel: { show: false }, splitLine: { show: false } },
    { gridIndex: 4, type: 'value', min: 0, max: 16, interval: 5, position: 'left', name: 'La/Th', nameLocation: 'middle', nameGap: 22,
      nameTextStyle: { fontSize: 11, color: '#333' }, axisLine: AX,
      axisTick: { show: true, inside: true, length: 4, lineStyle: { color: '#222' } },
      axisLabel: { fontSize: 12.5, color: '#333', margin: 5, formatter: v => (v % 5 === 0 ? String(v) : '') }, splitLine: { show: false } },
    { gridIndex: 4, type: 'value', min: 0, max: 16, interval: 5, position: 'right', axisLine: AX,
      axisTick: { show: true, inside: true, length: 4, lineStyle: { color: '#222' } }, axisLabel: { show: false }, splitLine: { show: false } },
    { gridIndex: 5, type: 'value', min: -65, max: 1084, minInterval: 200, maxInterval: 200, splitNumber: 5, position: 'left',
      name: 'Hydrogen Index (mgHC/gTOC)', nameLocation: 'middle', nameGap: 26, nameTextStyle: { fontSize: 9.5, color: '#333' }, axisLine: AX,
      axisTick: { show: true, inside: true, length: 3, lineStyle: { color: '#222' } },
      axisLabel: { fontSize: 10, color: '#333', margin: 3, formatter: v => (v % 200 === 0 ? String(v) : '') }, splitLine: { show: false } }
  ],
  legend: legends,
  graphic: [
    { type: 'rect', silent: true, z: 100, shape: { x: 5, y: 4, width: 1090, height: 538 }, style: { fill: null, stroke: '#d81b84', lineWidth: 2 } },
    { type: 'polyline', silent: true, shape: { points: [[575, 32], [580, 32], [580, 59], [575, 59]] }, style: { stroke: '#222', lineWidth: 1.2, fill: null } },
    { type: 'text', silent: true, x: 587, y: 45, rotation: -Math.PI / 2, style: { text: 'UVS', fontSize: 8.5, fill: '#333', align: 'center', verticalAlign: 'middle', fontFamily: FONT } },
    { type: 'polyline', silent: true, shape: { points: [[577, 64], [582, 64], [582, 96], [577, 96]] }, style: { stroke: '#222', lineWidth: 1.2, fill: null } },
    { type: 'text', silent: true, x: 590, y: 80, rotation: -Math.PI / 2, style: { text: 'LVS', fontSize: 8.5, fill: '#333', align: 'center', verticalAlign: 'middle', fontFamily: FONT } }
  ],
  series
};
const chart = echarts.init(document.getElementById('chart'), null, { renderer: 'canvas', width: 1099, height: 545 });
chart.setOption(option);
</script>
</body>
</html>
